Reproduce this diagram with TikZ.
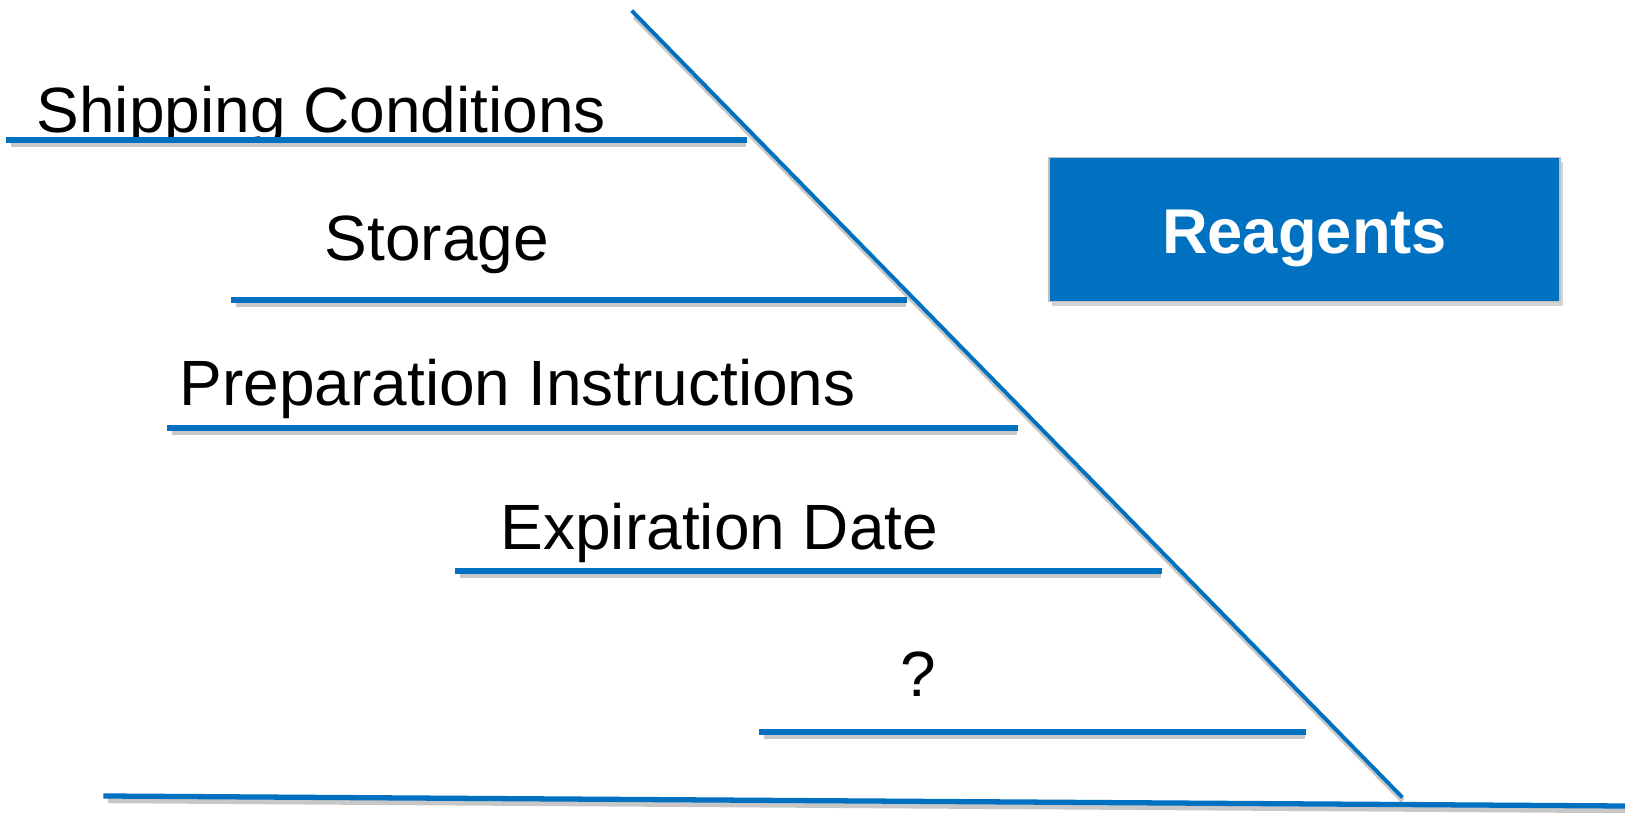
\documentclass[tikz,border=0pt]{standalone}
\usepackage{fontspec}
\setmainfont{Liberation Sans}
\usetikzlibrary{shadows}
\definecolor{fishblue}{HTML}{0070C0}

\begin{document}
\begin{tikzpicture}[x=0.01cm,y=-0.01cm]
\tikzset{bone/.style={draw=fishblue,line width=1.5pt,line cap=rect,
  preaction={draw=black!22,line width=1.5pt,transform canvas={xshift=0.5pt,yshift=-1.3pt}}}}
\tikzset{spine/.style={bone,line width=1.1pt}}
\tikzset{lbl/.style={anchor=base west,inner sep=0pt,font=\fontsize{18.2}{21.8}\selectfont}}
\tikzset{headbox/.style={fill=fishblue,draw=black!25,line width=0.4pt,
  minimum width=5.11cm,minimum height=1.44cm,inner sep=0pt,text=white,
  text height=13.9pt,text depth=0pt,
  font=\fontsize{18}{21.6}\selectfont\bfseries,
  drop shadow={shadow xshift=0.8pt,shadow yshift=-1.2pt,opacity=0.35}}}

\useasboundingbox (0,0) rectangle (1625,813);

% spine and head
\coordinate (top) at (633,12);
\coordinate (tail) at (1401,796);
\draw[spine] (top) -- (tail);
\coordinate (baseL) at (106,796);
\coordinate (baseR) at (1625,806);
\draw[bone] (baseL) -- (baseR);
\node[headbox] (reagents) at (1304.5,229.5) {Reagents};

% ribs
\node[lbl] (ship) at (36,133) {Shipping Conditions};
\coordinate (shipL) at (9,140);
\coordinate (shipR) at (744,140);
\draw[bone] (shipL) -- (shipR);

\node[lbl] (store) at (324,261) {Storage};
\coordinate (storeL) at (234,300);
\coordinate (storeR) at (904,300);
\draw[bone] (storeL) -- (storeR);

\node[lbl] (prep) at (179,406) {Preparation Instructions};
\coordinate (prepL) at (170,428);
\coordinate (prepR) at (1015,428);
\draw[bone] (prepL) -- (prepR);

\node[lbl] (expi) at (500,549) {Expiration Date};
\coordinate (expiL) at (458,571);
\coordinate (expiR) at (1159,571);
\draw[bone] (expiL) -- (expiR);

\node[lbl] (unknown) at (900,696) {?};
\coordinate (unknownL) at (762,732);
\coordinate (unknownR) at (1303,732);
\draw[bone] (unknownL) -- (unknownR);
\end{tikzpicture}
\end{document}
